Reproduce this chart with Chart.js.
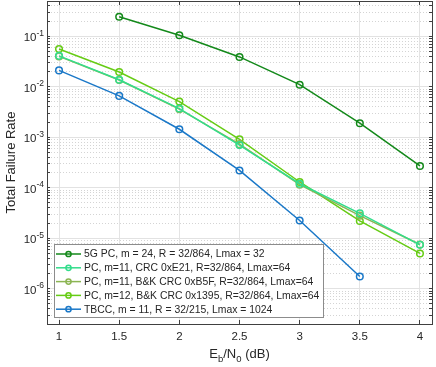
<!DOCTYPE html>
<html>
<head>
<meta charset="utf-8">
<script src="https://cdn.jsdelivr.net/npm/chart.js@4.4.1/dist/chart.umd.min.js"></script>
<style>
  html, body { margin: 0; padding: 0; background: #fff; }
  canvas { display: block; }
</style>
</head>
<body>
<canvas id="ferChart" width="436" height="367"></canvas>
<script>
// Eb/N0 points (dB)
const ebn0 = [1, 1.5, 2, 2.5, 3, 3.5, 4];

// total failure rate per curve (null = not simulated)
const pc5g   = [null, 0.243, 0.105, 0.039, 0.011, 0.0019, 2.7e-4];
const pcE21  = [0.041, 0.0138, 0.0037, 7.0e-4, 1.2e-4, 3.1e-5, 7.4e-6];
const pcB5F  = [0.040, 0.0136, 0.0036, 7.3e-4, 1.15e-4, 2.8e-5, 7.5e-6];
const pc1395 = [0.056, 0.0196, 0.0051, 9.1e-4, 1.3e-4, 2.2e-5, 5.0e-6];
const tbcc   = [0.0211, 0.0066, 0.00144, 2.2e-4, 2.24e-5, 1.74e-6, null];

const seriesNames = [
  '5G PC, m = 24, R = 32/864, Lmax = 32',
  'PC, m=11, CRC 0xE21, R=32/864, Lmax=64',
  'PC, m=11, B&K CRC 0xB5F, R=32/864, Lmax=64',
  'PC, m=12, B&K CRC 0x1395, R=32/864, Lmax=64',
  'TBCC, m = 11, R = 32/215, Lmax = 1024'
];
const seriesColors = ['#13891a', '#33dd8c', '#8cb553', '#66cc14', '#1a78c8'];

const xTicks = [1, 1.5, 2, 2.5, 3, 3.5, 4];
const yMajor = [1e-6, 1e-5, 1e-4, 1e-3, 1e-2, 1e-1];
const yMin = 2e-7, yMax = 0.5;
const xMin = 0.9, xMax = 4.1;

const FONT = '"Liberation Sans", Arial, Helvetica, sans-serif';
const AXIS = '#404040';

// all ticks on the log axis: 1..9 per decade
const yAll = [];
for (let e = -7; e <= 0; e++) {
  for (let m = 1; m <= 9; m++) {
    const v = m * Math.pow(10, e);
    if (v >= yMin && v <= yMax) yAll.push(v);
  }
}
function isMajor(v) {
  const l = Math.log10(v);
  return Math.abs(l - Math.round(l)) < 1e-9;
}

function toPoints(ys) {
  return ebn0.map((x, i) => ({ x: x, y: ys[i] })).filter(p => p.y !== null);
}

const allSeries = [pc5g, pcE21, pcB5F, pc1395, tbcc];
const datasets = allSeries.map((ys, i) => ({
  label: seriesNames[i],
  data: toPoints(ys),
  borderColor: seriesColors[i],
  backgroundColor: seriesColors[i],
  borderWidth: 1.5,
  pointRadius: 3.3,
  pointBorderWidth: 1.5,
  pointBackgroundColor: 'rgba(0,0,0,0)',
  pointBorderColor: seriesColors[i]
}));

// draws tick labels with exponents, axis titles and the boxed legend
const decorations = {
  id: 'decorations',
  afterDraw(chart) {
    const ctx = chart.ctx;
    const ys = chart.scales.y;
    const area = chart.chartArea;
    ctx.save();
    ctx.fillStyle = '#262626';

    // y tick labels 10^k
    ctx.textAlign = 'right';
    ctx.textBaseline = 'alphabetic';
    yMajor.forEach(v => {
      const py = ys.getPixelForValue(v);
      const exp = String(Math.round(Math.log10(v)));
      ctx.font = '8.5px ' + FONT;
      const ew = ctx.measureText(exp).width;
      ctx.fillText(exp, 44, py - 0.5);
      ctx.font = '11.5px ' + FONT;
      ctx.fillText('10', 44 - ew, py + 5);
    });

    // y axis title
    ctx.save();
    ctx.translate(14.5, (area.top + area.bottom) / 2);
    ctx.rotate(-Math.PI / 2);
    ctx.textAlign = 'center';
    ctx.font = '13px ' + FONT;
    ctx.fillText('Total Failure Rate', 0, 0);
    ctx.restore();

    // x axis title E_b/N_0 (dB)
    const parts = [['E', 13, 0], ['b', 9.5, 3.5], ['/N', 13, 0], ['0', 9.5, 3.5], [' (dB)', 13, 0]];
    let total = 0;
    parts.forEach(p => { ctx.font = p[1] + 'px ' + FONT; total += ctx.measureText(p[0]).width; });
    let cx = (area.left + area.right) / 2 - total / 2;
    ctx.textAlign = 'left';
    parts.forEach(p => {
      ctx.font = p[1] + 'px ' + FONT;
      ctx.fillText(p[0], cx, 358 + p[2]);
      cx += ctx.measureText(p[0]).width;
    });

    // legend box
    const lx = 54, ly = 244, lw = 269, lh = 73;
    ctx.fillStyle = '#ffffff';
    ctx.fillRect(lx, ly, lw, lh);
    ctx.strokeStyle = '#8c8c8c';
    ctx.lineWidth = 1;
    ctx.strokeRect(lx + 0.5, ly + 0.5, lw, lh);
    ctx.font = '10.4px ' + FONT;
    ctx.textBaseline = 'middle';
    chart.data.datasets.forEach((ds, i) => {
      const ry = ly + 10 + i * 13.8;
      ctx.strokeStyle = ds.borderColor;
      ctx.lineWidth = 1.5;
      ctx.beginPath();
      ctx.moveTo(lx + 2, ry);
      ctx.lineTo(lx + 27, ry);
      ctx.stroke();
      ctx.beginPath();
      ctx.arc(lx + 14.5, ry, 2.6, 0, Math.PI * 2);
      ctx.stroke();
      ctx.fillStyle = '#262626';
      ctx.fillText(ds.label, lx + 30, ry + 0.5);
    });
    ctx.restore();
  }
};

const ctx = document.getElementById('ferChart').getContext('2d');
const myChart = new Chart(ctx, {
  type: 'line',
  data: { datasets: datasets },
  plugins: [decorations],
  options: {
    responsive: false,
    animation: false,
    devicePixelRatio: 1,
    layout: { autoPadding: false, padding: { left: 0, right: 4, top: 1, bottom: 0 } },
    plugins: {
      legend: { display: false },
      tooltip: { enabled: false }
    },
    scales: {
      x: {
        type: 'linear',
        position: 'bottom',
        min: xMin,
        max: xMax,
        afterBuildTicks: s => { s.ticks = xTicks.map(v => ({ value: v })); },
        afterFit: s => { s.height = 43; },
        grid: { color: '#e4e4e4', lineWidth: 1, tickLength: -4, tickColor: AXIS },
        border: { color: AXIS, width: 1 },
        ticks: {
          color: '#262626',
          font: { family: FONT, size: 11.5 },
          padding: 10,
          maxRotation: 0,
          callback: v => String(v)
        }
      },
      xTop: {
        type: 'linear',
        position: 'top',
        min: xMin,
        max: xMax,
        afterBuildTicks: s => { s.ticks = xTicks.map(v => ({ value: v })); },
        afterFit: s => { s.height = 0; },
        grid: { drawOnChartArea: false, tickLength: -4, tickColor: AXIS },
        border: { color: AXIS, width: 1 },
        ticks: { display: false }
      },
      y: {
        type: 'logarithmic',
        position: 'left',
        min: yMin,
        max: yMax,
        afterBuildTicks: s => { s.ticks = yAll.map(v => ({ value: v })); },
        afterFit: s => { s.width = 47; },
        grid: {
          color: c => (c.tick && isMajor(c.tick.value)) ? '#e2e2e2' : '#d4d4d4',
          lineWidth: 1,
          tickLength: -3,
          tickColor: AXIS
        },
        border: {
          color: AXIS,
          width: 1,
          dash: c => (c.tick && !isMajor(c.tick.value)) ? [1, 2] : []
        },
        ticks: { display: false }
      },
      yRight: {
        type: 'logarithmic',
        position: 'right',
        min: yMin,
        max: yMax,
        afterBuildTicks: s => { s.ticks = yAll.map(v => ({ value: v })); },
        afterFit: s => { s.width = 0; },
        grid: { drawOnChartArea: false, tickLength: -3, tickColor: AXIS },
        border: { color: AXIS, width: 1 },
        ticks: { display: false }
      }
    }
  }
});
</script>
</body>
</html>
